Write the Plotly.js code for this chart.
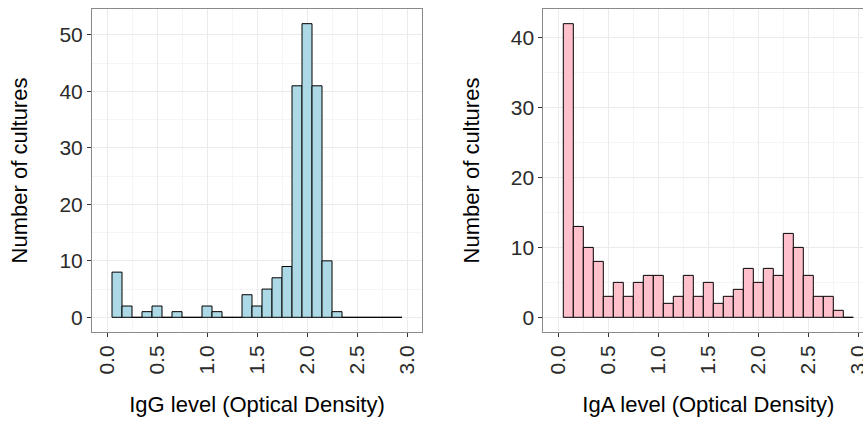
<!DOCTYPE html>
<html>
<head>
<meta charset="utf-8">
<script src="https://cdn.plot.ly/plotly-3.0.1.min.js"></script>
<style>
  html, body { margin: 0; padding: 0; overflow: hidden; background: #fff; }
  #chart { width: 875px; height: 421px; }
</style>
</head>
<body>
<div id="chart"></div>
<script>
// Bin centres (Optical Density), bin width 0.1
var binCenters = [0.1, 0.2, 0.3, 0.4, 0.5, 0.6, 0.7, 0.8, 0.9, 1.0,
                  1.1, 1.2, 1.3, 1.4, 1.5, 1.6, 1.7, 1.8, 1.9, 2.0,
                  2.1, 2.2, 2.3, 2.4, 2.5, 2.6, 2.7, 2.8, 2.9];
// IgG counts per bin
var iggCounts = [8, 2, 0, 1, 2, 0, 1, 0, 0, 2,
                 1, 0, 0, 4, 2, 5, 7, 9, 41, 52,
                 41, 10, 1, 0, 0, 0, 0, 0, 0];
// IgA counts per bin
var igaCounts = [42, 13, 10, 8, 3, 5, 3, 5, 6, 6,
                 2, 3, 6, 3, 5, 2, 3, 4, 7, 5,
                 7, 6, 12, 10, 6, 3, 3, 1, 0];
var xTickVals = [0.0, 0.5, 1.0, 1.5, 2.0, 2.5, 3.0];
var xTickText = ["0.0", "0.5", "1.0", "1.5", "2.0", "2.5", "3.0"];
var iggYTicks = [0, 10, 20, 30, 40, 50];
var igaYTicks = [0, 10, 20, 30, 40];
var xTitleIgG = "IgG level (Optical Density)";
var xTitleIgA = "IgA level (Optical Density)";
var yTitle = "Number of cultures";

var W = 875, H = 421;
var FONT = "Liberation Sans, Arial, Helvetica, sans-serif";

var traces = [
  {
    type: "bar", x: binCenters, y: iggCounts, width: 0.1,
    xaxis: "x", yaxis: "y",
    marker: { color: "#ADD8E6", line: { color: "#000000", width: 1 } },
    hoverinfo: "x+y", showlegend: false
  },
  {
    type: "bar", x: binCenters, y: igaCounts, width: 0.1,
    xaxis: "x2", yaxis: "y2",
    marker: { color: "#FFC0CB", line: { color: "#000000", width: 1 } },
    hoverinfo: "x+y", showlegend: false
  }
];

function xAxis(domain, anchor, title) {
  return {
    domain: domain, anchor: anchor, range: [-0.15, 3.15],
    tickmode: "array", tickvals: xTickVals, ticktext: xTickText,
    tickangle: -90, ticks: "outside", ticklen: 4, tickwidth: 1, tickcolor: "#333333",
    tickfont: { family: FONT, size: 21, color: "#2b2b2b" },
    showgrid: true, gridcolor: "#EBEBEB", gridwidth: 1,
    minor: { dtick: 0.5, tick0: 0.25, showgrid: true, gridcolor: "#F5F5F5", gridwidth: 1, ticks: "" },
    zeroline: false, showline: true, mirror: true, linecolor: "#8a8a8a", linewidth: 1,
    title: { text: title, font: { family: FONT, size: 22, color: "#000000" }, standoff: 22 },
    automargin: false
  };
}
function yAxis(domain, anchor, range, ticks) {
  return {
    domain: domain, anchor: anchor, range: range,
    tickmode: "array", tickvals: ticks,
    ticks: "outside", ticklen: 4, tickwidth: 1, tickcolor: "#333333",
    tickfont: { family: FONT, size: 21, color: "#2b2b2b" },
    showgrid: true, gridcolor: "#EBEBEB", gridwidth: 1,
    minor: { dtick: 10, tick0: 5, showgrid: true, gridcolor: "#F5F5F5", gridwidth: 1, ticks: "" },
    zeroline: false, showline: true, mirror: true, linecolor: "#8a8a8a", linewidth: 1,
    title: { text: yTitle, font: { family: FONT, size: 22, color: "#000000" }, standoff: 25 },
    automargin: false
  };
}

var yDom = [89 / H, 412 / H];
var layout = {
  width: W, height: H,
  margin: { l: 0, r: 0, t: 0, b: 0, pad: 0 },
  paper_bgcolor: "#ffffff", plot_bgcolor: "#ffffff",
  bargap: 0,
  showlegend: false,
  font: { family: FONT },
  xaxis: xAxis([92 / W, 422 / W], "y", xTitleIgG),
  yaxis: yAxis(yDom, "x", [-2.6, 54.6], iggYTicks),
  xaxis2: xAxis([543.3 / W, 873.3 / W], "y2", xTitleIgA),
  yaxis2: yAxis(yDom, "x2", [-2.1, 44.1], igaYTicks)
};

Plotly.newPlot("chart", traces, layout, { staticPlot: true, displayModeBar: false });
</script>
</body>
</html>
